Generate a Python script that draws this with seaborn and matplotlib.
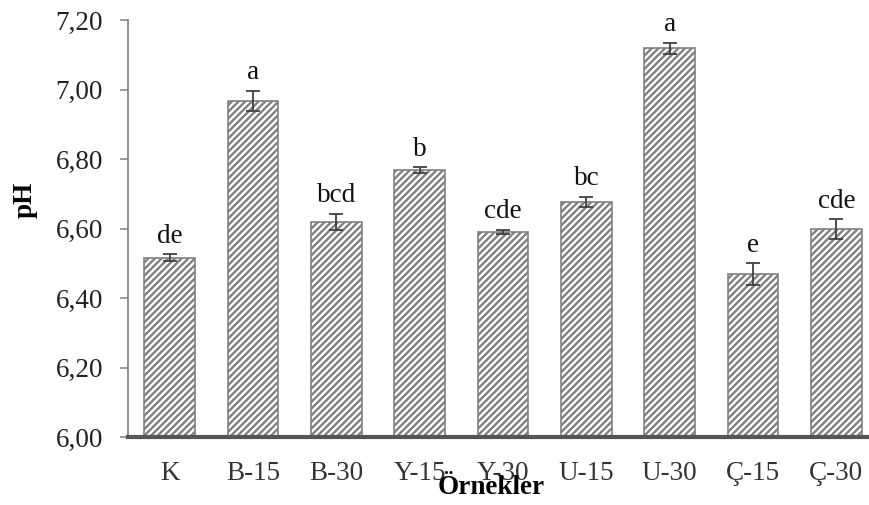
import matplotlib
matplotlib.use("Agg")
import matplotlib.pyplot as plt
import seaborn as sns
import pandas as pd

categories = ["K", "B-15", "B-30", "Y-15", "Y-30", "U-15", "U-30", "Ç-15", "Ç-30"]
ph_values = [6.516, 6.968, 6.619, 6.768, 6.590, 6.677, 7.118, 6.468, 6.598]
ph_errors = [0.010, 0.029, 0.023, 0.008, 0.006, 0.014, 0.017, 0.032, 0.028]
letters = ["de", "a", "bcd", "b", "cde", "bc", "a", "e", "cde"]
y_ticks = [6.0, 6.2, 6.4, 6.6, 6.8, 7.0, 7.2]
y_tick_labels = ["6,00", "6,20", "6,40", "6,60", "6,80", "7,00", "7,20"]

sns.set_style("white")
plt.rcParams["font.family"] = ["Liberation Serif", "DejaVu Serif"]
plt.rcParams["hatch.color"] = "#9a9a9a"
plt.rcParams["hatch.linewidth"] = 1.7

df = pd.DataFrame({"Örnek": categories, "pH": ph_values})

fig = plt.figure(figsize=(8.69, 5.05), dpi=100)
ax = fig.add_axes([128 / 869, 68 / 505, 750 / 869, 417 / 505])

sns.barplot(data=df, x="Örnek", y="pH", order=categories, ax=ax,
            color="white", edgecolor="#808080", linewidth=1.2,
            width=0.61, errorbar=None, hatch="/////")

xs = list(range(len(categories)))
ax.errorbar(xs, ph_values, yerr=ph_errors, fmt="none", ecolor="#404040",
            elinewidth=1.3, capsize=5, capthick=1.3, zorder=5)

for x, v, e, lab in zip(xs, ph_values, ph_errors, letters):
    ax.annotate(lab, (x, v + e), xytext=(0, 4), textcoords="offset points",
                ha="center", va="bottom", fontsize=19.5, color="#111111")

ax.set_ylim(6.0, 7.2)
ax.set_xlim(-0.5, len(categories) - 0.5)
ax.set_yticks(y_ticks)
ax.set_yticklabels(y_tick_labels)
ax.set_xlabel("")
ax.set_ylabel("")

ax.tick_params(axis="y", which="major", left=True, length=6, width=1.2,
               color="#888888", labelsize=19.5, labelcolor="#222222", pad=12)
ax.tick_params(axis="x", bottom=False, labelsize=19.5, labelcolor="#333333", pad=14)

for s in ["top", "right"]:
    ax.spines[s].set_visible(False)
ax.spines["left"].set_color("#888888")
ax.spines["left"].set_linewidth(1.3)
ax.spines["bottom"].set_color("#555555")
ax.spines["bottom"].set_linewidth(3)
ax.spines["bottom"].set_zorder(6)

fig.text(491 / 869, 1 - 487 / 505, "Örnekler", ha="center", va="center",
         fontsize=19.5, fontweight="bold", color="black")
fig.text(25 / 869, 1 - 200 / 505, "pH", ha="center", va="center",
         rotation=90, fontsize=19.5, fontweight="bold", color="black")

fig.savefig("out.png", dpi=100)
